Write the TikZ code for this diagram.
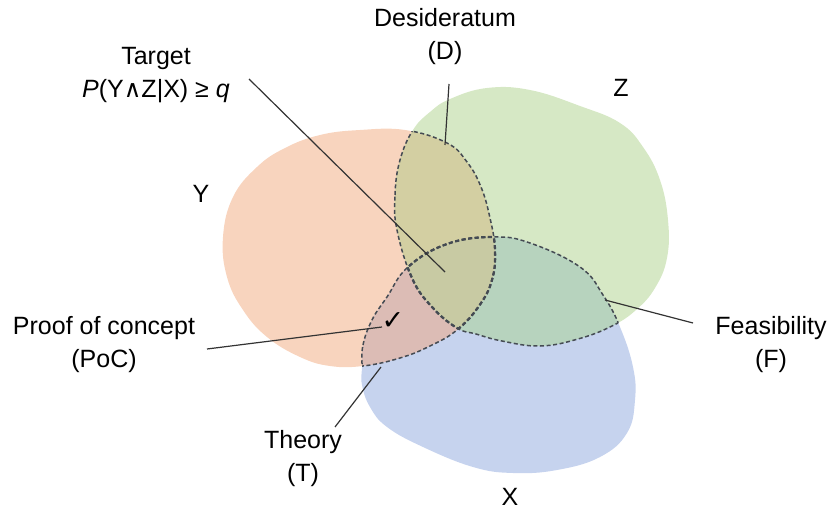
\documentclass[tikz,border=0pt]{standalone}
\usepackage{fontspec}
\setmainfont{Liberation Sans}
\newfontfamily\dvs{DejaVu Sans}
\definecolor{cY}{HTML}{F8D4BE}
\definecolor{cZ}{HTML}{D6E8C5}
\definecolor{cX}{HTML}{C6D3EE}
\definecolor{cYZ}{HTML}{D3CFA2}
\definecolor{cYX}{HTML}{DCBCB5}
\definecolor{cZX}{HTML}{B7D3BE}
\definecolor{cYZX}{HTML}{C8CAA3}
\definecolor{bndc}{HTML}{454B53}
\definecolor{ldc}{HTML}{333333}
\def\pY{plot[smooth cycle, tension=0.7] coordinates {(223,237) (233,197) (257,167) (285,148) (320,135) (360,130) (405,130) (447,143) (467,162) (481,187) (490,218) (495,250) (492,280) (479,306) (457,330) (430,346) (400,358) (363,366) (330,366) (300,357) (267,337) (243,310) (227,277)}}
\def\pZ{plot[smooth cycle, tension=0.7] coordinates {(397,230) (395,195) (400,160) (413,130) (430,112) (450,99) (487,88) (530,90) (580,106) (620,123) (643,147) (660,180) (668,220) (667,258) (655,288) (636,310) (612,326) (578,339) (540,346) (502,341) (476,334) (457,328) (432,307) (412,278)}}
\def\pX{plot[smooth cycle, tension=0.7] coordinates {(362,367) (363,345) (372,320) (387,297) (408,267) (447,244) (493,237) (530,243) (580,267) (603,295) (620,327) (633,367) (635,400) (627,433) (600,457) (557,470) (513,473) (473,467) (423,447) (387,427) (370,407) (362,385)}}
\begin{document}
\begin{tikzpicture}[x=1pt,y=-1pt,
  lbl/.style={font=\fontsize{25}{33}\selectfont, align=center, inner sep=0pt, text=black},
  leader/.style={draw=ldc, line width=1.2pt},
  bnd/.style={draw=bndc, line width=1.5pt, dash pattern=on 4pt off 2.6pt},
  bndc2/.style={draw=bndc, line width=2.3pt, dash pattern=on 4pt off 2.6pt}]
\useasboundingbox (0,0) rectangle (835,513);
% base fills
\fill[cY] \pY;
\fill[cZ] \pZ;
\fill[cX] \pX;
% pairwise intersections
\begin{scope}\clip \pY; \fill[cYZ] \pZ; \end{scope}
\begin{scope}\clip \pY; \fill[cYX] \pX; \end{scope}
\begin{scope}\clip \pZ; \fill[cZX] \pX; \end{scope}
\begin{scope}\clip \pY; \clip \pZ; \fill[cYZX] \pX; \end{scope}
% dashed boundaries inside other sets
\begin{scope}\clip \pY; \draw[bnd] \pZ; \draw[bnd] \pX; \end{scope}
\begin{scope}\clip \pZ; \draw[bnd] \pY; \draw[bnd] \pX; \end{scope}
\begin{scope}\clip \pX; \draw[bnd] \pY; \draw[bnd] \pZ; \end{scope}
% bolder outline of the triple intersection
\begin{scope}\clip \pY; \clip \pZ; \draw[bndc2] \pX; \end{scope}
\begin{scope}\clip \pZ; \clip \pX; \draw[bndc2] \pY; \end{scope}
\begin{scope}\clip \pY; \clip \pX; \draw[bndc2] \pZ; \end{scope}
% labels
\node[lbl] (tgt) at (156,75.5) {Target\\\textit{P}(Y{\dvs\fontsize{24}{24}\selectfont ∧}Z|X) ≥ \textit{q}};
\node[lbl] (des) at (445,37) {Desideratum\\(D)};
\node[lbl] (zl) at (621,88) {Z};
\node[lbl] (yl) at (201,194) {Y};
\node[lbl] (poc) at (104,345) {Proof of concept\\(PoC)};
\node[lbl] (fea) at (771,345) {Feasibility\\(F)};
\node[lbl] (the) at (303,459) {Theory\\(T)};
\node[lbl] (xl) at (510,497) {X};
\node[inner sep=0pt, font=\dvs\fontsize{27}{27}\selectfont] (chk) at (393,321) {✓};
% leader coordinates
\coordinate (tgtA) at (249,79);  \coordinate (tgtB) at (445,272);
\coordinate (desA) at (449,84);  \coordinate (desB) at (445,145);
\coordinate (pocA) at (207,349); \coordinate (pocB) at (382,327);
\coordinate (theA) at (335,427); \coordinate (theB) at (381,367);
\coordinate (feaA) at (693,323); \coordinate (feaB) at (605,300);
\draw[leader] (tgtA) -- (tgtB);
\draw[leader] (desA) -- (desB);
\draw[leader] (pocA) -- (pocB);
\draw[leader] (theA) -- (theB);
\draw[leader] (feaA) -- (feaB);
\end{tikzpicture}
\end{document}
